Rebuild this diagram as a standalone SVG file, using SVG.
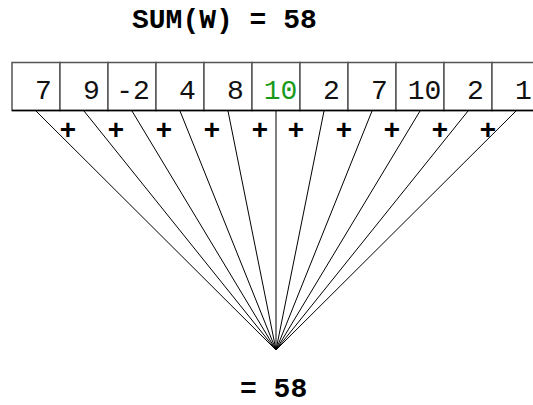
<svg xmlns="http://www.w3.org/2000/svg" width="533" height="405" viewBox="0 0 533 405">
<style>
.val{font-family:"Liberation Mono",monospace;font-size:28px;fill:#111;text-anchor:middle}
.g{fill:#1a9a1a}
.plus{font-family:"Liberation Mono",monospace;font-size:28px;font-weight:bold;fill:#000;text-anchor:middle}
.ttl{font-family:"Liberation Mono",monospace;font-size:28px;font-weight:bold;fill:#000}
.cell{fill:#fff;stroke:#555;stroke-width:1.5}
.conn line{stroke:#000;stroke-width:1}
</style>
<rect width="533" height="405" fill="#fff"/>
<text class="ttl" x="132" y="28">SUM(W) = 58</text>
<g id="cells">
<g id="c0"><rect class="cell" x="12" y="62.5" width="48" height="48"/><text class="val" x="43.5" y="99">7</text></g>
<g id="c1"><rect class="cell" x="60" y="62.5" width="48" height="48"/><text class="val" x="91.5" y="99">9</text></g>
<g id="c2"><rect class="cell" x="108" y="62.5" width="48" height="48"/><text class="val" x="133" y="99">-2</text></g>
<g id="c3"><rect class="cell" x="156" y="62.5" width="48" height="48"/><text class="val" x="187.5" y="99">4</text></g>
<g id="c4"><rect class="cell" x="204" y="62.5" width="48" height="48"/><text class="val" x="235.5" y="99">8</text></g>
<g id="c5"><rect class="cell" x="252" y="62.5" width="48" height="48"/><text class="val g" x="280.5" y="99">10</text></g>
<g id="c6"><rect class="cell" x="300" y="62.5" width="48" height="48"/><text class="val" x="331.5" y="99">2</text></g>
<g id="c7"><rect class="cell" x="348" y="62.5" width="48" height="48"/><text class="val" x="379.5" y="99">7</text></g>
<g id="c8"><rect class="cell" x="396" y="62.5" width="48" height="48"/><text class="val" x="424.5" y="99">10</text></g>
<g id="c9"><rect class="cell" x="444" y="62.5" width="48" height="48"/><text class="val" x="475.5" y="99">2</text></g>
<g id="c10"><rect class="cell" x="492" y="62.5" width="48" height="48"/><text class="val" x="523.5" y="99">1</text></g>
</g>
<line x1="12" y1="110.5" x2="533" y2="110.5" stroke="#000" stroke-width="1.5"/>
<g id="connectors" class="conn">
<line x1="36" y1="111" x2="276" y2="350"/>
<line x1="84" y1="111" x2="276" y2="350"/>
<line x1="132" y1="111" x2="276" y2="350"/>
<line x1="180" y1="111" x2="276" y2="350"/>
<line x1="228" y1="111" x2="276" y2="350"/>
<line x1="276" y1="111" x2="276" y2="350"/>
<line x1="324" y1="111" x2="276" y2="350"/>
<line x1="372" y1="111" x2="276" y2="350"/>
<line x1="420" y1="111" x2="276" y2="350"/>
<line x1="468" y1="111" x2="276" y2="350"/>
<line x1="516" y1="111" x2="276" y2="350"/>
</g>
<g id="plus">
<text class="plus" x="68" y="139">+</text>
<text class="plus" x="116" y="139">+</text>
<text class="plus" x="164" y="139">+</text>
<text class="plus" x="212" y="139">+</text>
<text class="plus" x="260" y="139">+</text>
<text class="plus" x="296" y="139">+</text>
<text class="plus" x="344" y="139">+</text>
<text class="plus" x="392" y="139">+</text>
<text class="plus" x="440" y="139">+</text>
<text class="plus" x="488" y="139">+</text>
</g>
<g id="result"><text class="ttl" x="240" y="397">= 58</text></g>
</svg>
